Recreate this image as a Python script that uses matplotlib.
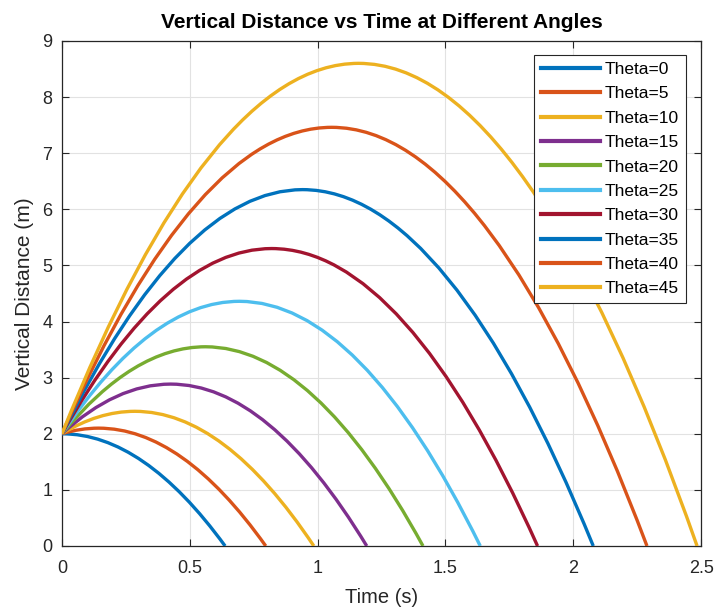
import numpy as np
import matplotlib.pyplot as plt
from matplotlib.path import Path
from matplotlib.patches import PathPatch
from matplotlib.lines import Line2D

# launch angles (deg) and trajectory key points read per curve
angles = [0, 5, 10, 15, 20, 25, 30, 35, 40, 45]
launch_height = 2.0
apex_time = [0.0, 0.143, 0.285, 0.425, 0.561, 0.694, 0.820, 0.941, 1.055, 1.160]
apex_height = [2.0, 2.10, 2.40, 2.885, 3.55, 4.36, 5.30, 6.35, 7.46, 8.60]
land_time = [0.638, 0.797, 0.985, 1.192, 1.412, 1.636, 1.860, 2.078, 2.288, 2.484]

colors = ['#0072BD', '#D95319', '#EDB120', '#7E2F8E', '#77AC30',
          '#4DBEEE', '#A2142F', '#0072BD', '#D95319', '#EDB120']

plt.rcParams['font.family'] = ['Liberation Sans', 'DejaVu Sans']

fig = plt.figure(figsize=(7.19, 6.13), dpi=100, facecolor='white')
ax = fig.add_axes([0.0862, 0.1093, 0.889, 0.824])

handles = []
for ang, ta, h, tl, c in zip(angles, apex_time, apex_height, land_time, colors):
    # parabola as two quadratic Bezier pieces: launch -> apex -> landing
    verts = [(0, launch_height), (ta / 2, h), (ta, h),
             ((ta + tl) / 2, h), (tl, 0)]
    codes = [Path.MOVETO, Path.CURVE3, Path.CURVE3, Path.CURVE3, Path.CURVE3]
    ax.add_patch(PathPatch(Path(verts, codes), fill=False, edgecolor=c,
                           lw=2.4, capstyle='butt', zorder=3))
    handles.append(Line2D([], [], color=c, lw=3.0, label=f'Theta={ang}'))

ax.set_xlim(0, 2.5)
ax.set_ylim(0, 9)
ax.set_xticks(np.arange(0, 2.51, 0.5))
ax.set_xticklabels(['0', '0.5', '1', '1.5', '2', '2.5'])
ax.set_yticks(range(0, 10))

ax.grid(True, color='#e2e2e2', lw=0.8)
ax.set_axisbelow(True)
for s in ax.spines.values():
    s.set_color('#262626')
    s.set_linewidth(0.9)
ax.tick_params(direction='in', length=5, width=0.8, colors='#262626',
               labelsize=13, top=True, right=True, pad=7)
ax.tick_params(axis='x', pad=10)

ax.set_title('Vertical Distance vs Time at Different Angles',
             fontsize=15, fontweight='bold', pad=9)
ax.set_xlabel('Time (s)', fontsize=14.5, color='#262626', labelpad=8)
ax.set_ylabel('Vertical Distance (m)', fontsize=15, color='#262626', labelpad=6)

leg = ax.legend(handles=handles, loc='upper right', bbox_to_anchor=(0.9765, 0.972),
                fontsize=12.5, frameon=True, fancybox=False, handlelength=3.4,
                handletextpad=0.3, labelspacing=0.53, borderpad=0.4,
                borderaxespad=0)
leg.get_frame().set_edgecolor('#262626')
leg.get_frame().set_linewidth(0.8)
leg.get_frame().set_alpha(1)

plt.savefig('out.png', dpi=100, facecolor='white')
